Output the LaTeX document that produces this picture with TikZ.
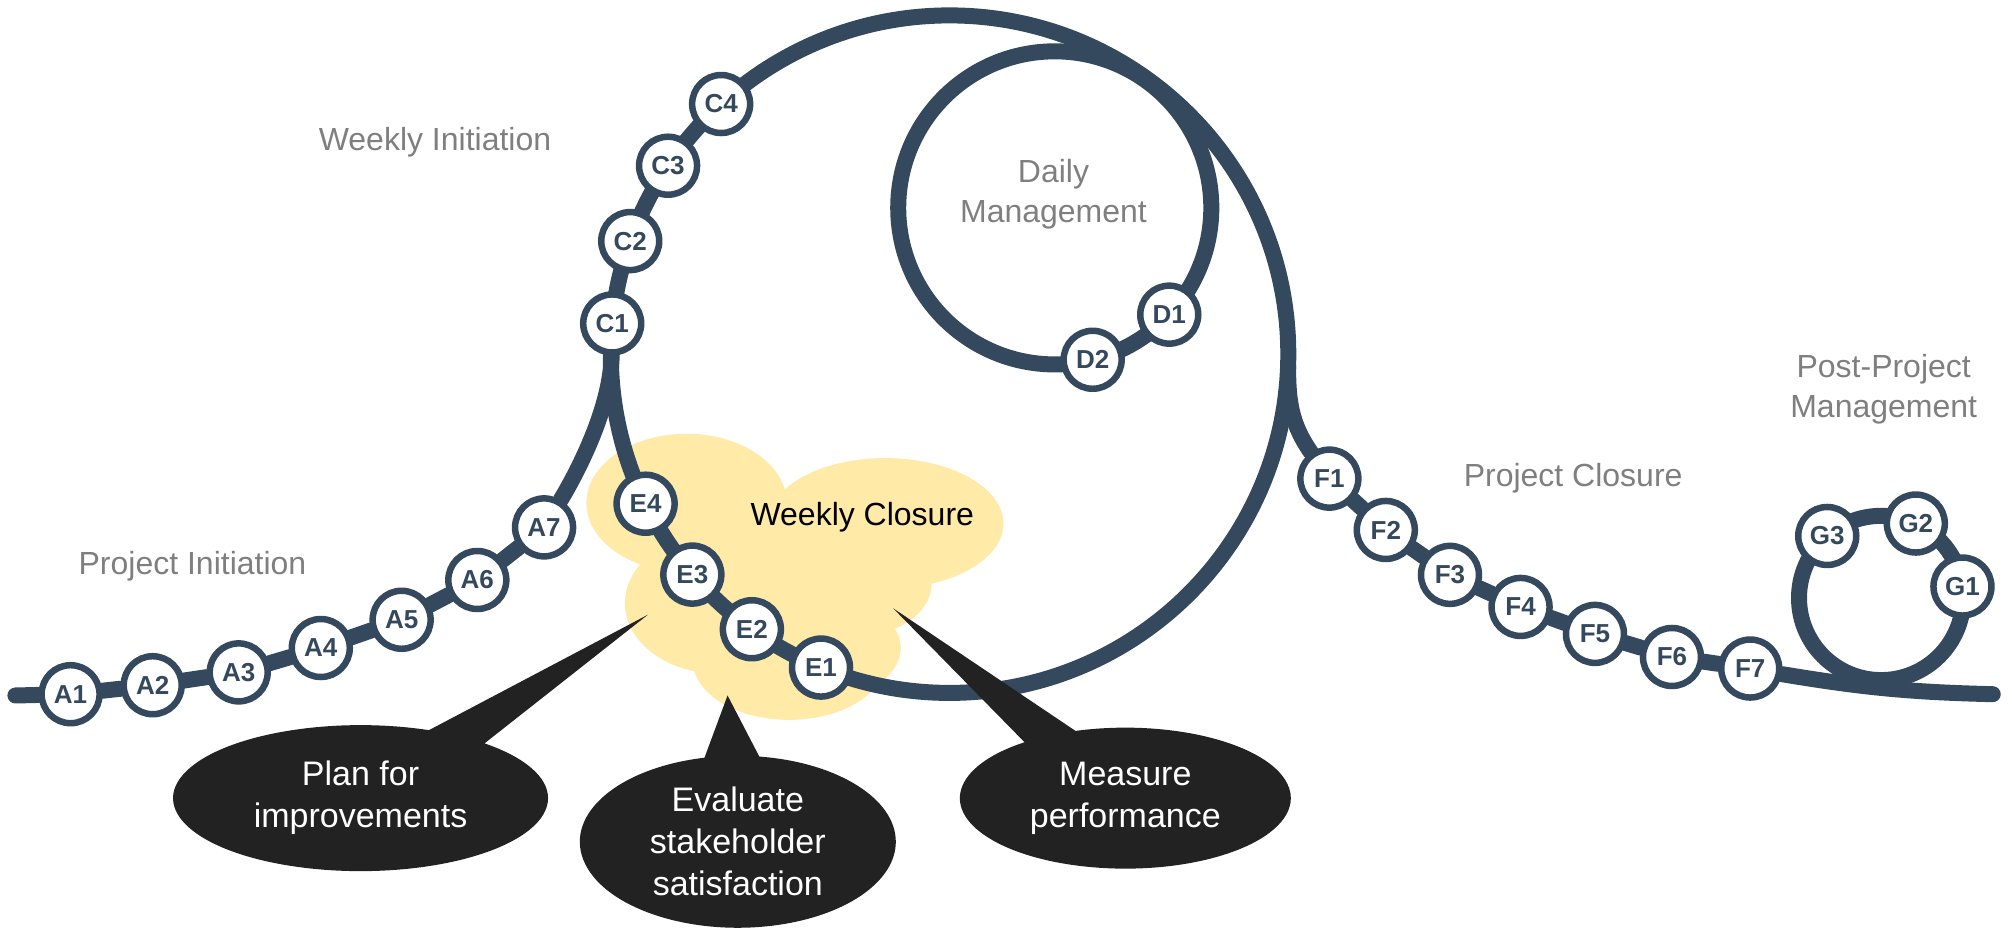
\documentclass[tikz,border=0pt]{standalone}
\usepackage{fontspec}
\setmainfont{Liberation Sans}
\usetikzlibrary{shapes.callouts,backgrounds}
\definecolor{slate}{RGB}{52,73,94}
\definecolor{cream}{RGB}{255,234,167}
\definecolor{ink}{RGB}{34,34,34}
\definecolor{note}{RGB}{127,127,127}

\begin{document}
\begin{tikzpicture}[x=1.2832pt,y=1.2832pt,
	rail/.style={draw=slate,line width=16pt,line cap=round},
	stn/.style={circle,draw=slate,line width=6.5pt,fill=white,minimum size=58pt,inner sep=0pt,text=slate,font=\fontsize{26}{26}\selectfont\bfseries},
	phase/.style={text=note,align=center,font=\fontsize{32}{40}\selectfont},
	bubble/.style={ellipse callout,fill=ink,text=white,align=center,inner sep=0pt,callout pointer arc=20,font=\fontsize{34}{42}\selectfont}]
			\useasboundingbox (0,0) rectangle (1568,-725);

			% centres of the loops
			\coordinate (loop) at (740,-276);
			\coordinate (daily) at (822,-162);
			\coordinate (post) at (1466,-466);
			\coordinate (start) at (12,-542);
			\coordinate (finish) at (1553,-541);
			\draw (loop) ++(-2:264) coordinate (fork);

			\draw (55,-541) node (A1)[stn]{A1};
			\draw (119,-534) node (A2)[stn]{A2};
			\draw (186,-524) node (A3)[stn]{A3};
			\draw (250,-505) node (A4)[stn]{A4};
			\draw (313,-483) node (A5)[stn]{A5};
			\draw (372,-452) node (A6)[stn]{A6};
			\draw (424,-411) node (A7)[stn]{A7};

			\draw (loop) ++(174.8:264) node (C1)[stn]{C1};
			\draw (loop) ++(160.5:264) node (C2)[stn]{C2};
			\draw (loop) ++(146.2:264) node (C3)[stn]{C3};
			\draw (loop) ++(132.4:264) node (C4)[stn]{C4};

			\draw (daily) ++(-43:122) node (D1)[stn]{D1};
			\draw (daily) ++(-76:122) node (D2)[stn]{D2};

			\draw (loop) ++(247.7:264) node (E1)[stn]{E1};
			\draw (loop) ++(234.3:264) node (E2)[stn]{E2};
			\draw (loop) ++(220.6:264) node (E3)[stn]{E3};
			\draw (loop) ++(206.2:264) node (E4)[stn]{E4};

			\draw (1036,-373) node (F1)[stn]{F1};
			\draw (1080,-413) node (F2)[stn]{F2};
			\draw (1130,-448) node (F3)[stn]{F3};
			\draw (1185,-473) node (F4)[stn]{F4};
			\draw (1243,-494) node (F5)[stn]{F5};
			\draw (1303,-512) node (F6)[stn]{F6};
			\draw (1364,-521) node (F7)[stn]{F7};

			\draw (post) ++(8:64) node (G1)[stn]{G1};
			\draw (post) ++(65:64) node (G2)[stn]{G2};
			\draw (post) ++(131:64) node (G3)[stn]{G3};

			\begin{scope}[on background layer]
			% weekly closure cloud
			\foreach \cx/\cy/\rx/\ry in {535/392/78/54, 690/408/92/51, 560/470/73/55,
				615/515/75/46, 670/455/56/40, 640/505/62/40, 615/435/70/45}
				\fill[cream] (\cx,-\cy) ellipse[x radius=\rx,y radius=\ry];
			\draw[rail] (loop) circle[radius=264];
			\draw[rail] (daily) circle[radius=122];
			\draw[rail] (post) circle[radius=64];
			\draw[rail] (start)--(A1)--(A2)--(A3)--(A4)--(A5)--(A6)--(A7);
			\draw[rail] (A7) .. controls (450,-368) and (476,-318) .. (C1);
			\draw[rail] (fork) to[out=-90,in=125] (F1);
			\draw[rail] (F1)--(F2)--(F3)--(F4)--(F5)--(F6)--(F7);
			\draw[rail] (F7) to[bend right=4] (finish);
			\end{scope}

			\node[phase] (wkinit) at (339,-111) {Weekly Initiation};
			\node[phase] (dailym) at (821,-151) {Daily\\Management};
			\node[phase] (postm) at (1468,-303) {Post-Project\\Management};
			\node[phase] (pclose) at (1226,-373) {Project Closure};
			\node[phase] (pinit) at (150,-441) {Project Initiation};
			\node[font=\fontsize{32}{32}\selectfont] (wkclose) at (672,-403) {Weekly Closure};

			% callouts
			\coordinate (tip1) at (505,-479);
			\coordinate (tip2) at (567,-542);
			\coordinate (tip3) at (696,-474);
			\node[bubble,minimum width=375pt,minimum height=146pt,callout absolute pointer={(tip1)}] (plan) at (281,-622) {Plan for\\improvements};
			\node[bubble,minimum width=316pt,minimum height=172pt,callout absolute pointer={(tip2)}] (eval) at (575,-656) {Evaluate\\stakeholder\\satisfaction};
			\node[bubble,minimum width=331pt,minimum height=141pt,callout absolute pointer={(tip3)}] (meas) at (877,-622) {Measure\\performance};
		\end{tikzpicture}
\end{document}
